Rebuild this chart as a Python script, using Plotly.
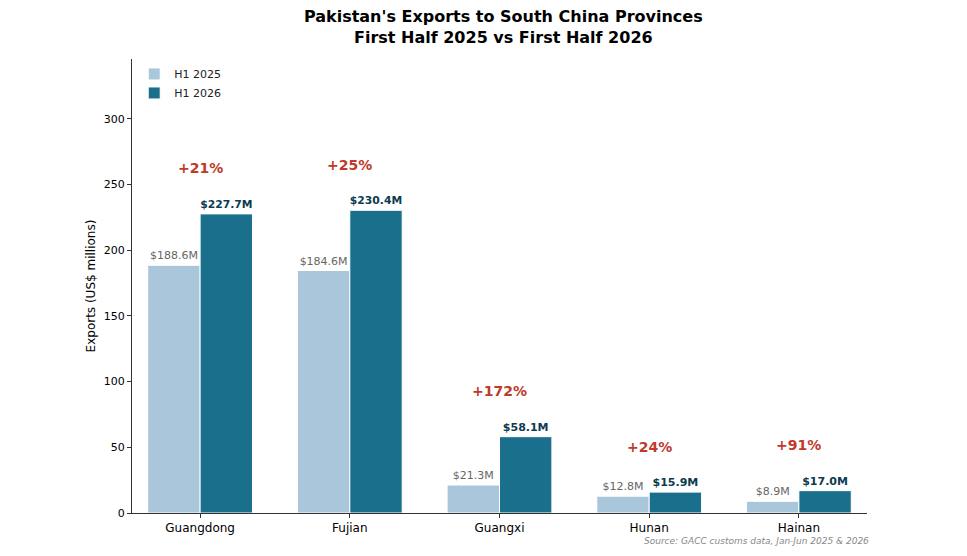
import plotly.graph_objects as go

provinces = ["Guangdong", "Fujian", "Guangxi", "Hunan", "Hainan"]
h1_2025 = [188.6, 184.6, 21.3, 12.8, 8.9]
h1_2026 = [227.7, 230.4, 58.1, 15.9, 17.0]
growth = ["+21%", "+25%", "+172%", "+24%", "+91%"]
y_ticks = [0, 50, 100, 150, 200, 250, 300]

LIGHT = "#a9c6db"
DARK = "#1a6f8c"
FONT = "DejaVu Sans"

fig = go.Figure()
fig.add_trace(go.Bar(
    x=provinces, y=h1_2025, name="H1 2025",
    marker=dict(color=LIGHT, line=dict(color="white", width=1)),
    text=[f"${v:.1f}M" for v in h1_2025], textposition="outside",
    textfont=dict(family=FONT, size=11, color="#666666"),
    cliponaxis=False,
))
fig.add_trace(go.Bar(
    x=provinces, y=h1_2026, name="H1 2026",
    marker=dict(color=DARK, line=dict(color="white", width=1)),
    text=[f"<b>${v:.1f}M</b>" for v in h1_2026], textposition="outside",
    textfont=dict(family=FONT, size=11, color="#0d3b4f"),
    cliponaxis=False,
))

# growth labels above each pair
for p, a, b, g in zip(provinces, h1_2025, h1_2026, growth):
    fig.add_annotation(
        x=p, y=max(a, b) + 27, text=f"<b>{g}</b>", showarrow=False,
        yanchor="bottom", font=dict(family=FONT, size=14, color="#c0392b"),
    )

fig.add_annotation(
    xref="paper", yref="paper", x=1.006, y=-0.046, xanchor="right", yanchor="top",
    text="<i>Source: GACC customs data, Jan-Jun 2025 & 2026</i>", showarrow=False,
    font=dict(family=FONT, size=9, color="#888888"),
)

# page body adds an 8px offset, so the figure is 8px smaller than the window
fig.update_layout(
    width=959, height=548,
    margin=dict(l=124, r=100, t=51, b=43),
    paper_bgcolor="white", plot_bgcolor="white",
    font=dict(family=FONT, size=11, color="#222222"),
    barmode="group", bargap=0.3, bargroupgap=0,
    title=dict(
        text="<b>Pakistan's Exports to South China Provinces<br>First Half 2025 vs First Half 2026</b>",
        x=0.5165, xanchor="center", y=0.975, yanchor="top",
        font=dict(family=FONT, size=16, color="black"),
    ),
    legend=dict(
        x=0.003, y=0.999, xanchor="left", yanchor="top",
        font=dict(family=FONT, size=11), bgcolor="rgba(0,0,0,0)",
        tracegroupgap=0,
    ),
    showlegend=True,
)
fig.update_xaxes(
    range=[-0.455, 4.455], showline=True, linecolor="#333333", linewidth=1,
    ticks="outside", ticklen=4, tickcolor="#333333",
    tickfont=dict(family=FONT, size=12, color="black"), showgrid=False,
)
fig.update_yaxes(
    range=[0, 345.6], tickvals=y_ticks, showline=True, linecolor="#333333", linewidth=1,
    ticks="outside", ticklen=4, tickcolor="#333333", showgrid=False, zeroline=False,
    tickfont=dict(family=FONT, size=11, color="black"),
    title=dict(text="Exports (US$ millions)", font=dict(family=FONT, size=12, color="black"), standoff=5),
)

fig.write_html("out.html")
